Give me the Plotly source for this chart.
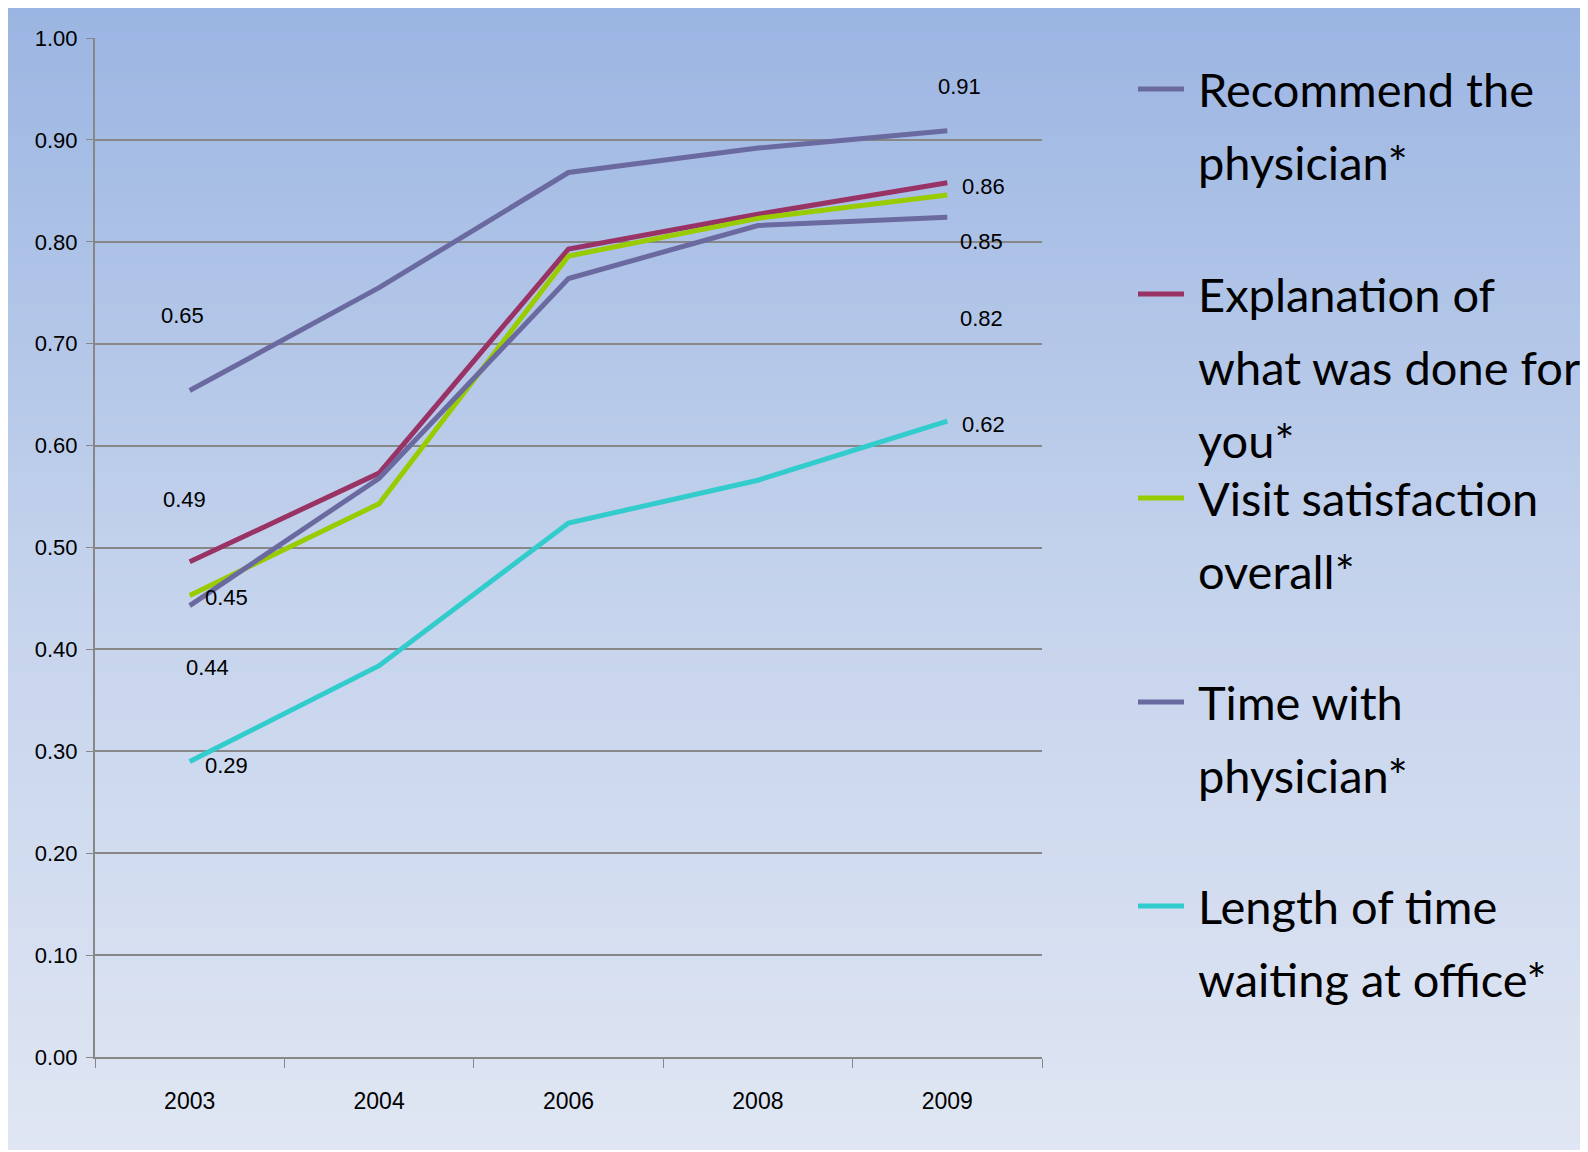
import plotly.graph_objects as go

# ---------------- data ----------------
years = ["2003", "2004", "2006", "2008", "2009"]
series_names = [
    "Recommend the<br>physician*",
    "Explanation of<br>what was done for<br>you*",
    "Visit satisfaction<br>overall*",
    "Time with<br>physician*",
    "Length of time<br>waiting at office*",
]
recommend = [0.654, 0.755, 0.868, 0.892, 0.909]
explanation = [0.486, 0.573, 0.793, 0.827, 0.858]
visit = [0.453, 0.543, 0.786, 0.823, 0.846]
time_with = [0.443, 0.568, 0.764, 0.816, 0.824]
waiting = [0.290, 0.384, 0.524, 0.566, 0.624]
y_ticks = [0.0, 0.1, 0.2, 0.3, 0.4, 0.5, 0.6, 0.7, 0.8, 0.9, 1.0]

all_series = [recommend, explanation, visit, time_with, waiting]

# ---------------- style ----------------
colors = ["#6a6aa0", "#993366", "#99cc00", "#6a6aa0", "#33cccc"]
# label offsets (pixels) for first and last point labels
first_shift = [(-7, 75), (-5, 62), (37, -2), (18, -62), (37, -4)]
last_shift = [(12, 44), (36, -4), (34, -47), (34, -101), (36, -3)]

OFF = 8  # page body margin
W, H = 1588 - OFF, 1150 - OFF
L, R, T, B = 95 - OFF, 1042 - OFF, 38 - OFF, 1057 - OFF
narrow = "Liberation Sans Narrow, Arial Narrow, Liberation Sans, Arial, sans-serif"
legend_font = "Lato, Carlito, Calibri, sans-serif"


def px_x(x):
    return (x - OFF - L) / (R - L)


def px_y(y):
    return (B - (y - OFF)) / (B - T)


fig = go.Figure()
for name, vals, col in zip(series_names, all_series, colors):
    fig.add_trace(go.Scatter(
        x=years, y=vals, mode="lines", name=name.replace("<br>", " "),
        line=dict(color=col, width=5), showlegend=False,
    ))

annotations = []
for vals, fs, ls in zip(all_series, first_shift, last_shift):
    for idx, sh in ((0, fs), (len(years) - 1, ls)):
        annotations.append(dict(
            x=idx, y=vals[idx], xref="x", yref="y",
            text=f"{vals[idx]:.2f}", showarrow=False,
            xshift=sh[0], yshift=sh[1],
            font=dict(family=narrow, size=22, color="#000000"),
        ))

# gradient background (styling), in page pixels
shapes = []
stops = [(8, (155, 181, 226)), (560, (195, 210, 236)), (1152, (224, 230, 243))]
n_bands = 143
top_px, bot_px = 8, 1152
for i in range(n_bands):
    y0 = top_px + (bot_px - top_px) * i / n_bands
    y1 = top_px + (bot_px - top_px) * (i + 1) / n_bands
    ym = (y0 + y1) / 2
    for (a, ca), (b, cb) in zip(stops[:-1], stops[1:]):
        if a <= ym <= b:
            t = (ym - a) / (b - a)
            c = tuple(round(ca[k] + (cb[k] - ca[k]) * t) for k in range(3))
            break
    shapes.append(dict(
        type="rect", xref="paper", yref="paper", layer="below",
        x0=px_x(0), x1=px_x(1600), y0=px_y(y1 + 0.6), y1=px_y(y0),
        fillcolor=f"rgb{c}", line=dict(width=0),
    ))

# manual legend (page pixels)
entry_tops = [89, 294, 498, 702, 906]
line_gap = 73
for name, col, yc in zip(series_names, colors, entry_tops):
    shapes.append(dict(
        type="line", xref="paper", yref="paper",
        x0=px_x(1138), x1=px_x(1184), y0=px_y(yc), y1=px_y(yc),
        line=dict(color=col, width=5),
    ))
    for j, line in enumerate(name.split("<br>")):
        annotations.append(dict(
            x=px_x(1196), y=px_y(yc + j * line_gap), xref="paper", yref="paper",
            xanchor="left", yanchor="middle", showarrow=False, text=line,
            font=dict(family=legend_font, size=47, color="#000000"),
        ))

fig.update_layout(
    width=W, height=H,
    margin=dict(l=L, r=W - R, t=T, b=H - B, autoexpand=False),
    paper_bgcolor="#dfe5f3",
    plot_bgcolor="#b9cce4",
    shapes=shapes,
    annotations=annotations,
    showlegend=False,
    xaxis=dict(
        type="category", range=[-0.5, 4.5], tickson="boundaries",
        ticks="outside", ticklen=9, tickcolor="#878787", tickwidth=1,
        showgrid=False, showline=True, linecolor="#878787", linewidth=2,
        tickfont=dict(family=narrow, size=23, color="#000000"),
        ticklabelstandoff=22, automargin=False,
    ),
    yaxis=dict(
        range=[0, 1.0], tickvals=y_ticks, tickformat=".2f",
        ticks="outside", ticklen=7, tickcolor="#878787",
        showgrid=True, gridcolor="#878787", gridwidth=1.5,
        showline=True, linecolor="#878787", linewidth=2, zeroline=False,
        tickfont=dict(family=narrow, size=22, color="#000000"),
        ticklabelstandoff=4, automargin=False,
    ),
)

fig.write_html("out.html")
